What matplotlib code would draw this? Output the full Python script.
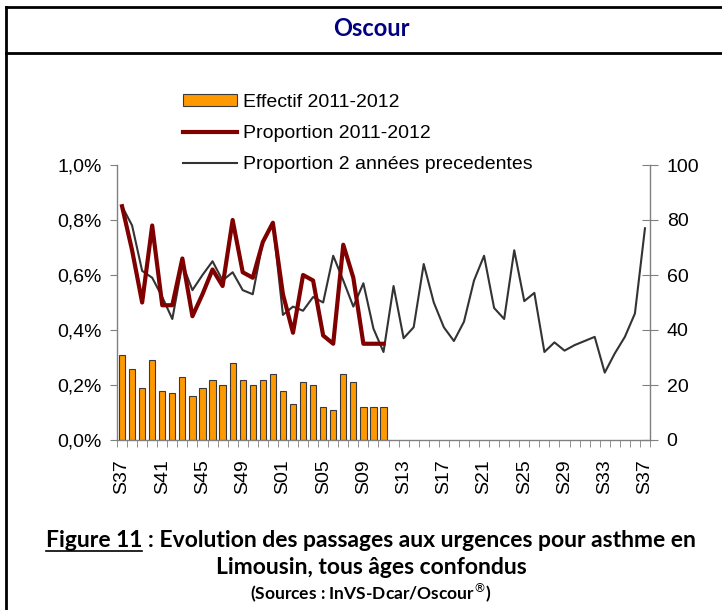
"""
Oscour - passages aux urgences pour asthme, Limousin
"""

import numpy as np
import matplotlib
matplotlib.use('Agg')
from matplotlib import pyplot as plt
from matplotlib.lines import Line2D
from matplotlib.patches import Patch
from matplotlib.ticker import FuncFormatter

weeks = ['S%02d' % w for w in list(range(37, 53)) + list(range(1, 38))]

# effectif 2011-2012 (right axis)
effectif = [31, 26, 19, 29, 18, 17, 23, 16, 19, 22, 20, 28, 22, 20, 22, 24,
            18, 13, 21, 20, 12, 11, 24, 21, 12, 12, 12]

# proportion 2011-2012 (%)
prop_2011 = [0.85, 0.69, 0.50, 0.78, 0.49, 0.49, 0.66, 0.45, 0.53, 0.62,
             0.56, 0.80, 0.61, 0.59, 0.72, 0.79, 0.53, 0.39, 0.60, 0.58,
             0.38, 0.35, 0.71, 0.59, 0.35, 0.35, 0.35]

# proportion 2 annees precedentes (%)
prop_prev = [0.85, 0.78, 0.615, 0.59, 0.52, 0.44, 0.64, 0.545, 0.60, 0.65,
             0.58, 0.61, 0.545, 0.53, 0.72, 0.79, 0.455, 0.485, 0.47, 0.52,
             0.50, 0.67, 0.58, 0.485, 0.57, 0.405, 0.32, 0.56, 0.37, 0.41,
             0.64, 0.50, 0.41, 0.36, 0.43, 0.58, 0.67, 0.48, 0.44, 0.69,
             0.505, 0.535, 0.32, 0.355, 0.325, 0.345, 0.36, 0.375, 0.245,
             0.315, 0.375, 0.46, 0.77]

plt.rcParams['font.family'] = ['Liberation Sans', 'DejaVu Sans']
narrow = ['Lato', 'DejaVu Sans']

fig = plt.figure(figsize=(7.22, 6.10), dpi=100)
W, H = 722, 610

ax = fig.add_axes([117 / W, 1 - 440 / H, (650 - 117) / W, (440 - 165) / H])
ax2 = ax.twinx()

x = np.arange(len(weeks))
ax2.bar(x[:len(effectif)], effectif, width=0.62, color='#FF9900',
        edgecolor='#3a3a3a', linewidth=0.8)
ax.plot(x, prop_prev, color='#333333', lw=1.5)
ax.plot(x[:len(prop_2011)], prop_2011, color='#800000', lw=3)

ax.set_zorder(ax2.get_zorder() + 1)
ax.patch.set_visible(False)

ax.set_xlim(-0.5, len(weeks) - 0.5)
ax.set_ylim(0, 1.0)
ax2.set_ylim(0, 100)
ax.set_yticks(np.arange(0, 1.01, 0.2))
ax2.set_yticks(range(0, 101, 20))
ax.yaxis.set_major_formatter(FuncFormatter(lambda v, p: ('%.1f%%' % v).replace('.', ',')))

ax.set_xticks(x[::4])
ax.set_xticklabels(weeks[::4], rotation=90)
ax.set_xticks(np.arange(len(weeks) + 1) - 0.5, minor=True)
ax.tick_params(axis='x', which='major', length=0, pad=14, labelsize=14)
ax.tick_params(axis='x', which='minor', length=5, color='#808080', direction='out')
ax.tick_params(axis='y', length=5, color='#808080', direction='out', labelsize=14, pad=6)
ax2.tick_params(axis='y', length=12, color='#808080', direction='inout', labelsize=14, pad=6)

for a in (ax, ax2):
    for s in a.spines.values():
        s.set_visible(False)
ax.spines['left'].set_visible(True)
ax.spines['bottom'].set_visible(True)
ax2.spines['right'].set_visible(True)
for s in (ax.spines['left'], ax.spines['bottom'], ax2.spines['right']):
    s.set_color('#808080')
    s.set_linewidth(1)

handles = [Patch(facecolor='#FF9900', edgecolor='#3a3a3a', linewidth=0.8),
           Line2D([], [], color='#800000', lw=3),
           Line2D([], [], color='#333333', lw=1.5)]
labels = ['Effectif 2011-2012', 'Proportion 2011-2012', 'Proportion 2 années precedentes']
fig.legend(handles, labels, loc='upper left', bbox_to_anchor=(183 / W, 1 - 94 / H),
           frameon=False, fontsize=14, borderpad=0, borderaxespad=0,
           handlelength=2.8, handleheight=0.6, handletextpad=0.3, labelspacing=0.72)

# frame
fig.add_artist(Line2D([6 / W, 6 / W], [0, 1 - 7 / H], color='black', lw=2))
fig.add_artist(Line2D([6 / W, 1], [1 - 7 / H, 1 - 7 / H], color='black', lw=2))
fig.add_artist(Line2D([6 / W, 1], [1 - 53 / H, 1 - 53 / H], color='black', lw=2))

fig.text(371 / W, 1 - 28 / H, 'Oscour', color='#000080', fontsize=17,
         fontweight='bold', family=narrow, ha='center', va='center')

# caption
cap = 16.5
line1 = fig.text(371 / W, 1 - 547 / H, 'Figure 11 : Evolution des passages aux urgences pour asthme en',
                 fontsize=cap, fontweight='bold', family=narrow, ha='center', va='baseline')
fig.text(371 / W, 1 - 574 / H, 'Limousin, tous âges confondus',
         fontsize=cap, fontweight='bold', family=narrow, ha='center', va='baseline')
fig.text(371 / W, 1 - 600 / H, '(Sources : InVS-Dcar/Oscour$^{®}$)',
         fontsize=12.5, fontweight='bold', family=narrow, ha='center', va='baseline')

# underline "Figure 11"
fig.canvas.draw()
r = fig.canvas.get_renderer()
bb = line1.get_window_extent(r)
tmp = fig.text(0, 0, 'Figure 11', fontsize=cap, fontweight='bold', family=narrow)
w = tmp.get_window_extent(r).width
tmp.remove()
fig.add_artist(Line2D([bb.x0 / W, (bb.x0 + w) / W], [1 - 551 / H, 1 - 551 / H],
                      color='black', lw=1.2))

plt.savefig('out.png', dpi=100)
